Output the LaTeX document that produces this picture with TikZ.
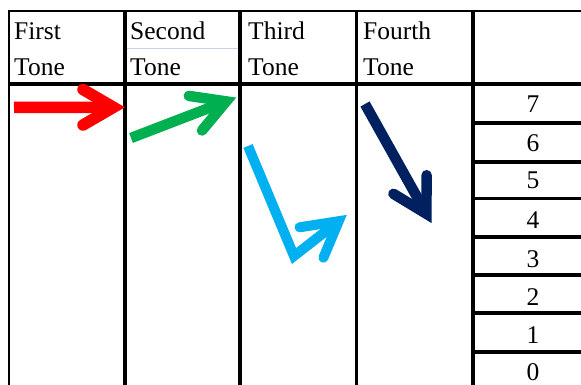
\documentclass[tikz,border=0pt]{standalone}
\usepackage{fontspec}
\setmainfont{Liberation Serif}
\definecolor{tred}{HTML}{FF0000}
\definecolor{tgreen}{HTML}{00B050}
\definecolor{tcyan}{HTML}{00B0F0}
\definecolor{tnavy}{HTML}{002060}
\definecolor{tline}{HTML}{C9D3E6}
\begin{document}
\begin{tikzpicture}[x=1pt,y=-1pt,
  thinrule/.style={line width=2.2pt,black},
  thickrule/.style={line width=3.6pt,black},
  lbl/.style={anchor=base west,inner sep=0pt,font=\fontsize{25.5}{30}\selectfont},
  num/.style={anchor=base,inner sep=0pt,font=\fontsize{25.5}{30}\selectfont},
  shaft/.style={line cap=butt,line join=miter},
  head/.style={line cap=round,line join=miter,miter limit=20}]
\useasboundingbox (0,0) rectangle (581,385);
% grid
\draw[thinrule] (8,11) -- (581,11);
\draw[thinrule] (9,11) -- (9,385);
\draw[thickrule] (9,84.3) -- (581,84.3);
\foreach \x in {125,240,356.5,472.7}
  \draw[thickrule] (\x,11) -- (\x,385);
\foreach \y in {123,162,198.5,237,275,313,352}
  \draw[thickrule] (472.7,\y) -- (581,\y);
\draw[line width=1.5pt,tline] (127,48.3) -- (238,48.3);
% header labels
\node[lbl] (f1) at (14,39.3) {First};
\node[lbl] (f2) at (14,75.3) {Tone};
\node[lbl] (s1) at (130,39.3) {Second};
\node[lbl] (s2) at (130,75.3) {Tone};
\node[lbl] (t1) at (248,39.3) {Third};
\node[lbl] (t2) at (248,75.3) {Tone};
\node[lbl] (u1) at (363,39.3) {Fourth};
\node[lbl] (u2) at (363,75.3) {Tone};
% scale numbers
\foreach \n/\y in {7/113,6/152,5/188,4/228,3/267,2/305,1/343,0/380}
  \node[num] (n\n) at (533,\y) {\n};
% red arrow (first tone)
\coordinate (rS) at (14,107.5);
\coordinate (rV) at (113.5,107.3);
\coordinate (rA) at (83,89.5);
\coordinate (rB) at (83,125);
\draw[tred,line width=11.5pt,shaft] (rS) -- (rV);
\draw[tred,line width=11.5pt,head] (rA) -- (rV) -- (rB);
% green arrow (second tone)
\coordinate (gS) at (131,138);
\coordinate (gV) at (226.2,101.4);
\coordinate (gA) at (188.8,95.9);
\coordinate (gB) at (202,130.5);
\draw[tgreen,line width=10.5pt,shaft] (gS) -- (gV);
\draw[tgreen,line width=10.5pt,head] (gA) -- (gV) -- (gB);
% cyan arrow (third tone)
\coordinate (cS) at (248,146);
\coordinate (cM) at (294,256);
\coordinate (cV) at (338.7,221.2);
\coordinate (cA) at (299.6,227.3);
\coordinate (cB) at (323.4,257.7);
\draw[tcyan,line width=10pt,shaft] (cS) -- (cM) -- (cV);
\draw[tcyan,line width=10pt,head] (cA) -- (cV) -- (cB);
% navy arrow (fourth tone)
\coordinate (dS) at (365,104);
\coordinate (dV) at (426.4,213.8);
\coordinate (dA) at (426.6,175.2);
\coordinate (dB) at (393.4,193.8);
\draw[tnavy,line width=10.5pt,shaft] (dS) -- (dV);
\draw[tnavy,line width=10.5pt,head] (dA) -- (dV) -- (dB);
\end{tikzpicture}
\end{document}
